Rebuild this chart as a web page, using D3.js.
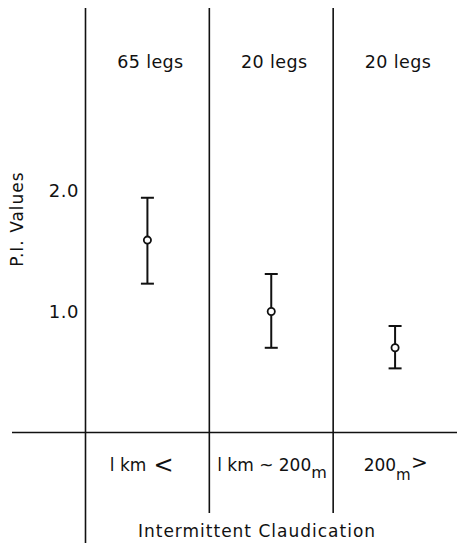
<!DOCTYPE html>
<html>
<head>
<meta charset="utf-8">
<script src="https://cdn.jsdelivr.net/npm/d3@7"></script>
<style>
  body { margin: 0; background: #fff; }
  svg text { font-family: "DejaVu Sans", sans-serif; fill: #111; }
</style>
</head>
<body>
<svg id="chart" width="457" height="543"></svg>
<script>
// Walking-distance groups and their P.I. summary
const categories = ["1 km <", "1 km ~ 200m", "200m >"];
const legCounts = ["65 legs", "20 legs", "20 legs"];
const meanValues = [1.59, 1.00, 0.70];
const upperValues = [1.94, 1.31, 0.88];
const lowerValues = [1.23, 0.70, 0.53];
const yTicks = [1.0, 2.0];

const svg = d3.select("#chart");
const ink = "#111";

const x = d3.scaleBand().domain(categories).range([85.5, 457]).paddingInner(0).paddingOuter(0);
const y = d3.scaleLinear().domain([0, 2]).range([432.5, 190.5]);

// Frame: baseline and column dividers
svg.append("line").attr("x1", 12).attr("x2", 457)
  .attr("y1", y(0)).attr("y2", y(0))
  .attr("stroke", ink).attr("stroke-width", 1.6);

categories.forEach((c, i) => {
  const xl = x(c);
  svg.append("line").attr("x1", xl).attr("x2", xl)
    .attr("y1", 8).attr("y2", i === 0 ? 543 : 513)
    .attr("stroke", ink).attr("stroke-width", 1.6);
});

// Y axis tick labels
const yAxis = d3.axisLeft(y).tickValues(yTicks).tickSize(0).tickPadding(0).tickFormat(d3.format(".1f"));
const gy = svg.append("g").attr("transform", "translate(79,0)").call(yAxis);
gy.select(".domain").remove();
gy.selectAll("text").style("font-size", "18px").style("font-family", "DejaVu Sans, sans-serif")
  .style("letter-spacing", "0.5px").attr("fill", ink);

// Y axis title
svg.append("text")
  .attr("transform", `translate(23,${219}) rotate(-90)`)
  .attr("text-anchor", "middle")
  .style("font-size", "17px").style("letter-spacing", "1px")
  .text("P.I. Values");

// Group sizes
svg.selectAll(".count").data(categories).join("text")
  .attr("class", "count")
  .attr("x", d => x(d) + x.bandwidth() / 2 + 3)
  .attr("y", 68)
  .attr("text-anchor", "middle")
  .style("font-size", "17.5px").style("letter-spacing", "0.4px")
  .text((d, i) => legCounts[i]);

// Error bars
const cap = 6.5;
const g = svg.selectAll(".pt").data(categories).join("g").attr("class", "pt")
  .attr("transform", d => `translate(${x(d) + x.bandwidth() / 2},0)`);
g.append("line").attr("x1", 0).attr("x2", 0)
  .attr("y1", (d, i) => y(upperValues[i])).attr("y2", (d, i) => y(lowerValues[i]))
  .attr("stroke", ink).attr("stroke-width", 2);
g.append("line").attr("x1", -cap).attr("x2", cap)
  .attr("y1", (d, i) => y(upperValues[i])).attr("y2", (d, i) => y(upperValues[i]))
  .attr("stroke", ink).attr("stroke-width", 2);
g.append("line").attr("x1", -cap).attr("x2", cap)
  .attr("y1", (d, i) => y(lowerValues[i])).attr("y2", (d, i) => y(lowerValues[i]))
  .attr("stroke", ink).attr("stroke-width", 2);
g.append("circle").attr("cx", 0).attr("cy", (d, i) => y(meanValues[i])).attr("r", 3.6)
  .attr("fill", "#fff").attr("stroke", ink).attr("stroke-width", 1.8);

// Category labels under the baseline
const labelY = 471;
const c0 = x(categories[0]) + x.bandwidth() / 2;
const c1 = x(categories[1]) + x.bandwidth() / 2;
const c2 = x(categories[2]) + x.bandwidth() / 2;

// "l km <"
svg.append("text").attr("x", c0 - 1).attr("y", labelY).attr("text-anchor", "end")
  .style("font-size", "17px").text("l km");
svg.append("text").attr("x", c0 + 6).attr("y", labelY + 2).attr("text-anchor", "start")
  .style("font-size", "24px").text("<");

// "l km ~ 200 m"
svg.append("text").attr("x", c1 + 40).attr("y", labelY).attr("text-anchor", "end")
  .style("font-size", "17px").text("l km ~ 200");
svg.append("text").attr("x", c1 + 40).attr("y", labelY + 7).attr("text-anchor", "start")
  .style("font-size", "16px").text("m");

// "200 m >" with the unit tucked under the sign
svg.append("text").attr("x", c2 + 1).attr("y", labelY).attr("text-anchor", "end")
  .style("font-size", "17px").text("200");
svg.append("text").attr("x", c2 + 1).attr("y", labelY + 9).attr("text-anchor", "start")
  .style("font-size", "15px").text("m");
svg.append("text").attr("x", c2 + 16).attr("y", labelY - 2).attr("text-anchor", "start")
  .style("font-size", "20px").text(">");

// X axis title
svg.append("text").attr("x", 257).attr("y", 537).attr("text-anchor", "middle")
  .style("font-size", "17px").style("letter-spacing", "1px")
  .text("Intermittent  Claudication");
</script>
</body>
</html>
